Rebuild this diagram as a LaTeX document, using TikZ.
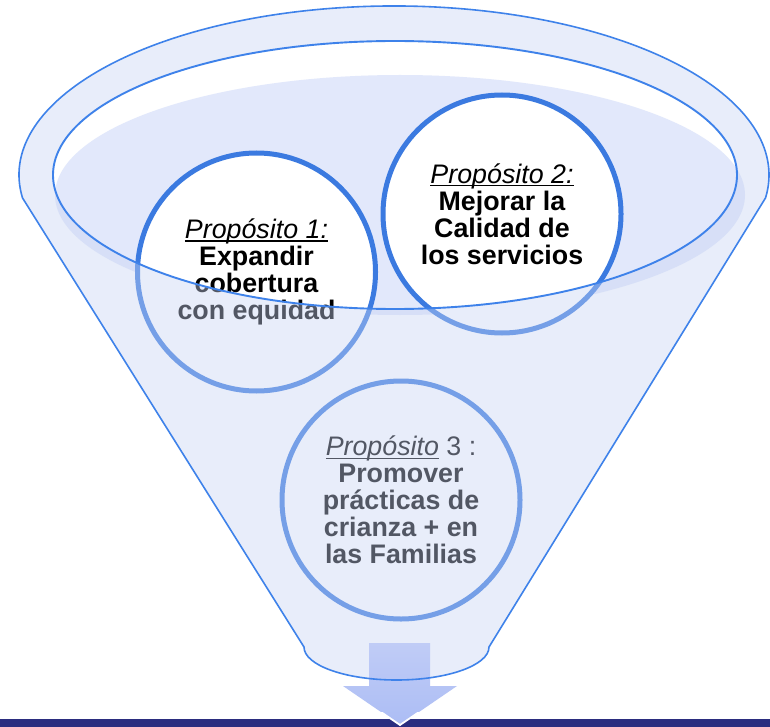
\documentclass[tikz,border=0pt]{standalone}
\usepackage{fontspec}
\setmainfont{Liberation Sans}
\definecolor{cblue}{RGB}{59,122,224}
\definecolor{fblue}{RGB}{62,130,234}
\definecolor{shadowc}{RGB}{226,232,251}
\definecolor{ovc}{RGB}{200,212,243}
\definecolor{navy}{RGB}{43,45,127}
\definecolor{arrtop}{RGB}{192,204,246}
\definecolor{arrbot}{RGB}{172,189,245}
\newcommand\ulthis[1]{\setbox0\hbox{#1}\rlap{\rule[-3pt]{\wd0}{1.2pt}}\box0}
\begin{document}
\begin{tikzpicture}[x=1pt,y=-1pt,
  purp/.style={circle, draw=cblue, line width=5pt, fill=white, minimum size=238pt,
    inner sep=0pt, align=center, text=black,
    font=\fontsize{26.8}{27}\selectfont},
  funline/.style={draw=fblue, line width=1.6pt},
  overlay/.style={fill=ovc, fill opacity=0.41, even odd rule}]
\useasboundingbox[fill=white] (0,0) rectangle (770,727);
% shadow inside the mouth
\fill[shadowc] (400,195) ellipse [x radius=345, y radius=120];
% circles
\node[purp] (p1) at (256.5,272) {{\itshape\ulthis{Propósito 1:}}\\\textbf{Expandir}\\\textbf{cobertura}\\\textbf{con equidad}};
\node[purp] (p2) at (502,214) {{\itshape\ulthis{Propósito 2:}}\\\textbf{Mejorar la}\\\textbf{Calidad de}\\\textbf{los servicios}};
\node[purp] (p3) at (401,500) {{\itshape\ulthis{Propósito}} 3 :\\\textbf{Promover}\\\textbf{prácticas de}\\\textbf{crianza + en}\\\textbf{las Familias}};
% translucent funnel body
\path[overlay] (22.5,197.9) arc[start angle=172.2, end angle=367.8, x radius=375, y radius=169]
  -- (489,647) .. controls (489,665.2) and (447.6,680) .. (396.5,680)
  .. controls (345.4,680) and (304,665.2) .. (304,647) -- cycle
  (395,175) ellipse [x radius=342, y radius=134];
% bottom bar
\fill[navy] (0,719) rectangle (770,727);
% arrow
\path[top color=arrtop, bottom color=arrbot]
  (369,643) -- (430,643) -- (430,686) -- (457,686) -- (400,725) -- (343,686) -- (369,686) -- cycle;
\begin{scope}
\clip (0,712) rectangle (770,727);
\draw[white, line width=1.8pt, line join=miter] (457,686) -- (400,725) -- (343,686);
\end{scope}
% funnel outlines
\draw[funline] (22.5,197.9) arc[start angle=172.2, end angle=367.8, x radius=375, y radius=169]
  -- (489,647) .. controls (489,665.2) and (447.6,680) .. (396.5,680)
  .. controls (345.4,680) and (304,665.2) .. (304,647) -- cycle;
\draw[funline, line width=1.9pt] (395,175) ellipse [x radius=342, y radius=134];
\end{tikzpicture}
\end{document}
